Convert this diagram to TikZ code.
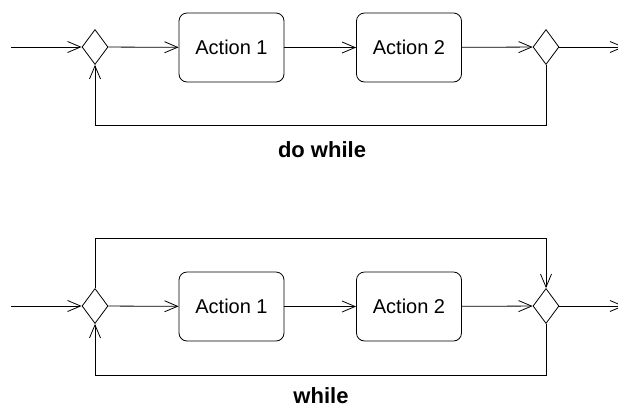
\documentclass[tikz,border=0pt]{standalone}
\usepackage{fontspec}
\setmainfont{Liberation Sans}
\usepackage{tikz}
\usetikzlibrary{arrows.meta, positioning, shapes.geometric}

\begin{document}
\begin{tikzpicture}[x=1pt, y=-1pt, line width=0.8pt,
    >={Straight Barb[length=13pt, width=11pt]},
    action/.style={draw, rounded corners=8pt, minimum width=105pt, minimum height=69pt,
      font=\fontsize{20}{24}\selectfont},
    choice/.style={draw, diamond, inner sep=0pt, minimum width=26pt, minimum height=35pt},
    caption/.style={anchor=base, inner sep=0pt, font=\bfseries\fontsize{22}{26}\selectfont}]
  \useasboundingbox (0,0) rectangle (618,408);

  % do while
  \coordinate (dwStart) at (11,47);
  \node[choice] (dwIn) at (95,47) {};
  \node[action] (dwAct1) at (231.5,47.5) {Action 1};
  \node[action] (dwAct2) at (409,47.5) {Action 2};
  \node[choice] (dwOut) at (546,47) {};
  \coordinate (dwEnd) at (624,47);
  \draw[->] (dwStart) -- (dwIn);
  \draw[->] (dwIn) -- (dwAct1);
  \draw[->] (dwAct1) -- (dwAct2);
  \draw[->] (dwAct2) -- (dwOut);
  \draw[->] (dwOut) -- (dwEnd);
  \draw[->] (dwOut.south) -- ++(0,60) -| (dwIn.south);
  \node[caption] (dwLabel) at (322,157) {do while};

  % while
  \coordinate (wStart) at (11,306);
  \node[choice] (wIn) at (95,306) {};
  \node[action] (wAct1) at (231.5,306.5) {Action 1};
  \node[action] (wAct2) at (409,306.5) {Action 2};
  \node[choice] (wOut) at (546,306) {};
  \coordinate (wEnd) at (624,306);
  \draw[->] (wStart) -- (wIn);
  \draw[->] (wIn) -- (wAct1);
  \draw[->] (wAct1) -- (wAct2);
  \draw[->] (wAct2) -- (wOut);
  \draw[->] (wOut) -- (wEnd);
  \draw[->] (wIn.north) -- ++(0,-50) -| (wOut.north);
  \draw[->] (wOut.south) -- ++(0,51) -| (wIn.south);
  \node[caption] (wLabel) at (321,403) {while};
\end{tikzpicture}
\end{document}
